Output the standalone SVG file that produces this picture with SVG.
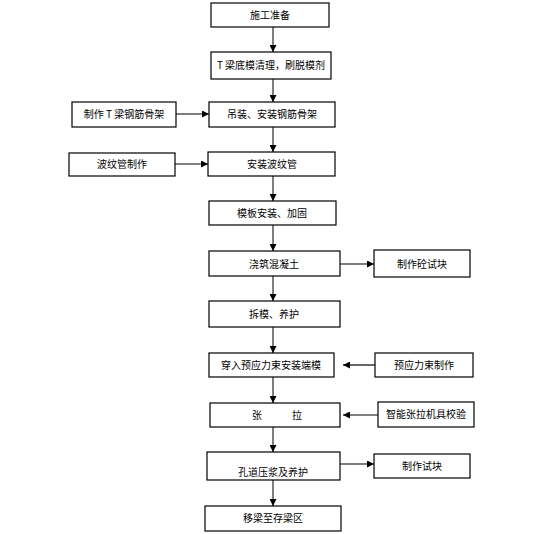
<svg xmlns="http://www.w3.org/2000/svg" width="544" height="534" viewBox="0 0 544 534">
<style>
.b{fill:#fff;stroke:#000;stroke-width:1.2}
.t{font-family:"Noto Sans CJK SC","Noto Sans",sans-serif;font-size:10px;fill:#000;text-anchor:middle}
.v{stroke:#7f7f7f;stroke-width:2;fill:none}
.h{stroke:#000;stroke-width:1.2;fill:none}
.hg{stroke:#7f7f7f;stroke-width:2;fill:none}
</style>
<defs>
<marker id="a" viewBox="0 0 10 10" refX="10" refY="5" markerWidth="7" markerHeight="7" markerUnits="userSpaceOnUse" orient="auto"><path d="M0,0L10,5L0,10z" fill="#000"/></marker>
</defs>
<rect width="544" height="534" fill="#fff"/>
<g id="connectors">
<line class="v" x1="273" y1="27" x2="273" y2="52" marker-end="url(#a)"/>
<line class="v" x1="273" y1="79" x2="273" y2="102" marker-end="url(#a)"/>
<line class="v" x1="273" y1="127" x2="273" y2="152" marker-end="url(#a)"/>
<line class="v" x1="273" y1="176" x2="273" y2="201" marker-end="url(#a)"/>
<line class="v" x1="273" y1="225" x2="273" y2="251" marker-end="url(#a)"/>
<line class="v" x1="273" y1="276" x2="273" y2="301" marker-end="url(#a)"/>
<line class="v" x1="273" y1="327" x2="273" y2="353" marker-end="url(#a)"/>
<line class="v" x1="273" y1="377" x2="273" y2="403" marker-end="url(#a)"/>
<line class="v" x1="273" y1="427" x2="273" y2="452" marker-end="url(#a)"/>
<line class="v" x1="273" y1="480" x2="273" y2="506" marker-end="url(#a)"/>
<line class="h" x1="176" y1="114" x2="209" y2="114" marker-end="url(#a)"/>
<line class="h" x1="175" y1="164" x2="208" y2="164" marker-end="url(#a)"/>
<line class="h" x1="340" y1="264" x2="374" y2="264" marker-end="url(#a)"/>
<line class="h" x1="375" y1="365" x2="343" y2="365" marker-end="url(#a)"/>
<line class="hg" x1="378" y1="415" x2="343" y2="415" marker-end="url(#a)"/>
<line class="hg" x1="340" y1="464" x2="374" y2="464" marker-end="url(#a)"/>
</g>
<g id="n1"><rect class="b" x="211" y="3" width="118" height="24"/><text class="t" x="270" y="19">施工准备</text></g>
<g id="n2"><rect class="b" x="211" y="52" width="120" height="27"/><text class="t" x="271" y="69">T 梁底模清理，刷脱模剂</text></g>
<g id="n3"><rect class="b" x="209" y="102" width="126" height="25"/><text class="t" x="272" y="118">吊装、安装钢筋骨架</text></g>
<g id="n3s"><rect class="b" x="72" y="102" width="104" height="25"/><text class="t" x="124" y="118">制作 T 梁钢筋骨架</text></g>
<g id="n4"><rect class="b" x="208" y="152" width="127" height="24"/><text class="t" x="272" y="168">安装波纹管</text></g>
<g id="n4s"><rect class="b" x="69" y="153" width="106" height="23"/><text class="t" x="122" y="168">波纹管制作</text></g>
<g id="n5"><rect class="b" x="209" y="201" width="127" height="24"/><text class="t" x="272" y="217">模板安装、加固</text></g>
<g id="n6"><rect class="b" x="209" y="251" width="131" height="25"/><text class="t" x="274" y="268">浇筑混凝土</text></g>
<g id="n6s"><rect class="b" x="374" y="250" width="96" height="27"/><text class="t" x="422" y="268">制作砼试块</text></g>
<g id="n7"><rect class="b" x="209" y="301" width="131" height="26"/><text class="t" x="274" y="318">拆模、养护</text></g>
<g id="n8"><rect class="b" x="209" y="353" width="125" height="24"/><text class="t" x="271" y="369">穿入预应力束安装端模</text></g>
<g id="n8s"><rect class="b" x="375" y="353" width="98" height="24"/><text class="t" x="424" y="369">预应力束制作</text></g>
<g id="n9"><rect class="b" x="210" y="403" width="130" height="24"/><text class="t" x="257" y="419">张</text><text class="t" x="297" y="419">拉</text></g>
<g id="n9s"><rect class="b" x="378" y="402" width="96" height="25"/><text class="t" x="426" y="418">智能张拉机具校验</text></g>
<g id="n10"><rect class="b" x="207" y="452" width="133" height="28"/><text class="t" x="273" y="476">孔道压浆及养护</text></g>
<g id="n10s"><rect class="b" x="374" y="454" width="96" height="24"/><text class="t" x="422" y="470">制作试块</text></g>
<g id="n11"><rect class="b" x="205" y="506" width="136" height="25"/><text class="t" x="273" y="522">移梁至存梁区</text></g>
</svg>
